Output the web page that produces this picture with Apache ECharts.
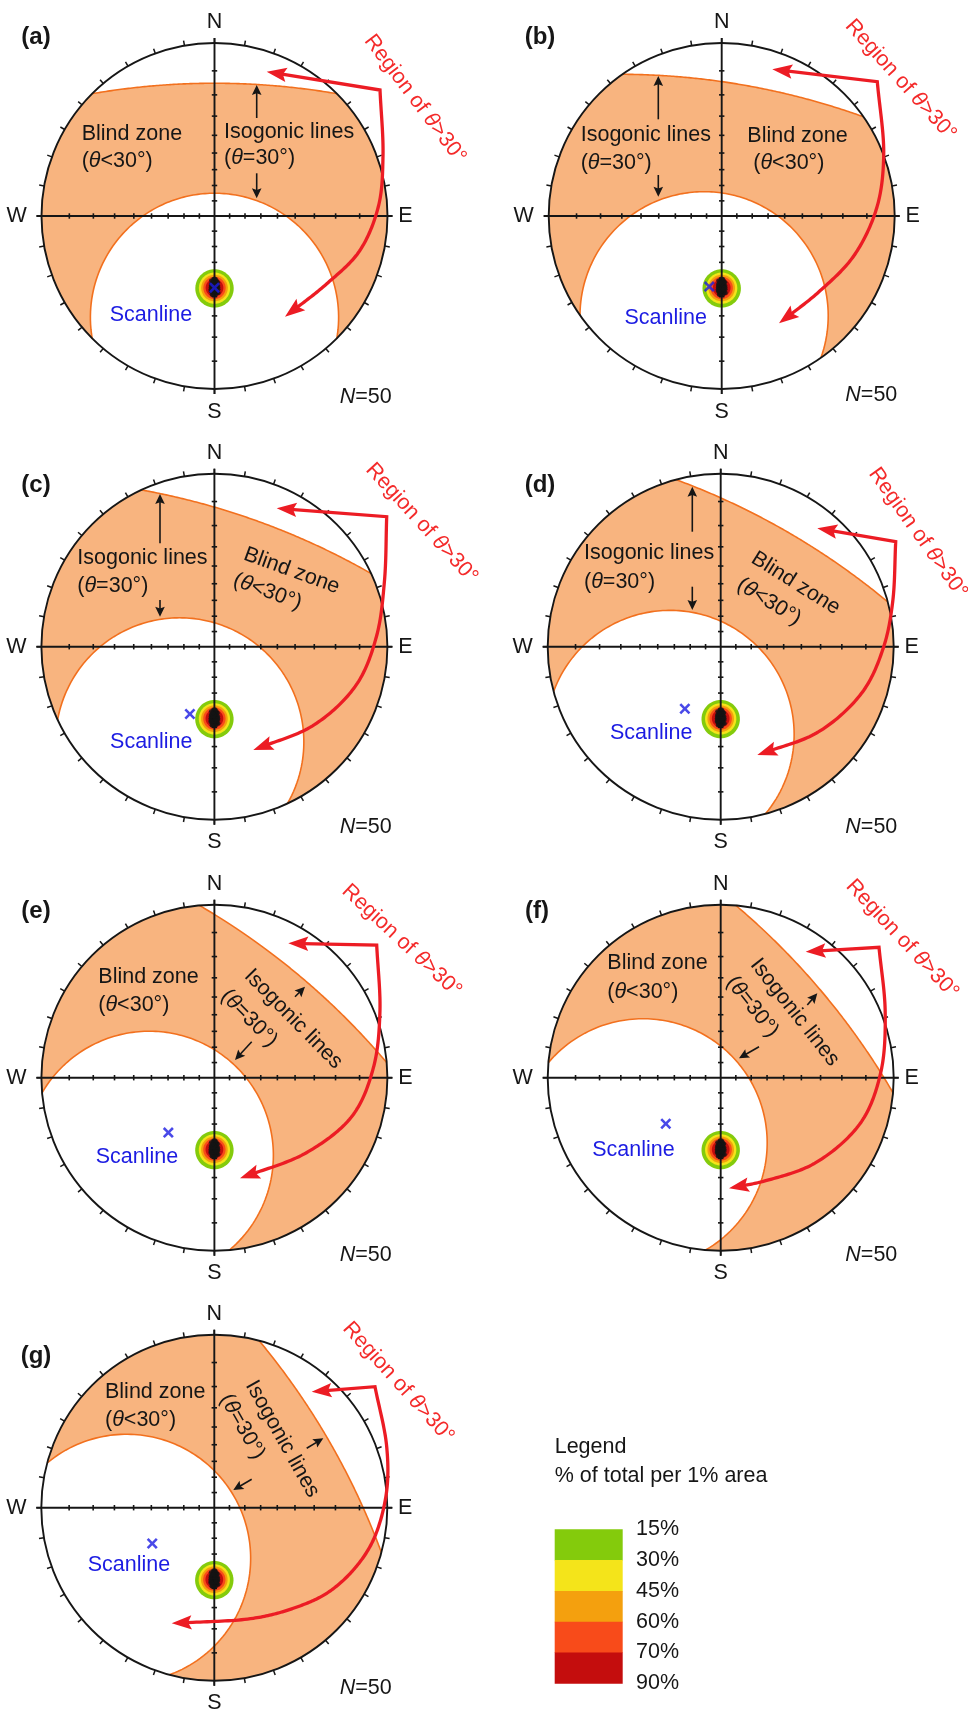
<!DOCTYPE html>
<html>
<head>
<meta charset="utf-8">
<script src="https://cdn.jsdelivr.net/npm/echarts@6/dist/echarts.min.js"></script>
<style>
  html, body { margin: 0; padding: 0; background: #fff; }
  #chart { width: 968px; height: 1716px; }
</style>
</head>
<body>
<div id="chart"></div>
<script>
// ---- data -------------------------------------------------------------
const panelTags = ['(a)', '(b)', '(c)', '(d)', '(e)', '(f)', '(g)'];
// scanline orientation for each net (trend, plunge in degrees)
const scanlineTrend = [180, 190, 200, 210, 220, 230, 240];
const scanlinePlunge = [45, 45, 45, 45, 45, 45, 45];
// limiting angle between scanline and discontinuity plane
const isogonicTheta = 30;
const sampleSize = 50;
// poles to discontinuities (trend, plunge)
const poles = [
  [180, 45], [178, 44], [182, 46], [179, 47], [181, 43], [178, 46], [182, 44], [180, 48], [177, 44], [183, 47],
  [179, 42], [181, 49], [178, 47], [182, 42], [180, 44], [178, 49], [182, 48], [177, 46], [183, 45], [179, 45],
  [181, 46], [180, 41], [178, 42], [181, 50], [177, 48], [183, 43], [180, 50], [178, 43], [182, 41], [179, 49],
  [181, 44], [178, 45], [182, 45], [180, 46], [177, 42], [183, 49], [179, 41], [181, 41], [178, 48], [183, 46],
  [180, 43], [179, 48], [182, 47], [180, 47], [177, 45], [183, 44], [179, 44], [181, 48], [179, 50], [182, 43]
];
// density contours around the pole set (angular radius of each contour)
const contourCentre = [180, 45];
const contourRadiusDeg = [10.8, 8.8, 7.5, 6.3, 5.0];
const contourColors = ['#84cb0c', '#f4e41a', '#f4a00e', '#f84b1a', '#c40d0d'];
const legendLabels = ['15%', '30%', '45%', '60%', '70%', '90%'];
// net graduations
const azimuthTicks = [0, 10, 20, 30, 40, 50, 60, 70, 80, 90, 100, 110, 120, 130, 140, 150, 160, 170,
  180, 190, 200, 210, 220, 230, 240, 250, 260, 270, 280, 290, 300, 310, 320, 330, 340, 350];
const dipTicks = [10, 20, 30, 40, 50, 60, 70, 80];

// ---- layout -----------------------------------------------------------
const R = 173;
const centres = [[214.5, 216], [721.7, 216], [214.4, 646.7], [720.7, 646.7],
                 [214.4, 1077.7], [720.7, 1077.7], [214.3, 1507.7]];
const FONT = 'Liberation Sans, Arial, Helvetica, sans-serif';
const FS = 21.5;
const INK = '#161616';
const ZONE_FILL = '#f8b47f';
const ZONE_EDGE = '#f2701e';
const SWEEP = '#ec1c24';
const REGION_TXT = '#f42a2a';
const BLUE = '#1c1ce2';

// annotation placement per net: pixel offsets from the net centre (y down)
const notes = [
  { tag: [-178.5, -179],
    text: [['Blind zone', -132.8, -81.7, 'left', 0], ['({i|θ}<30°)', -132.8, -55, 'left', 0],
           ['Isogonic lines', 9.5, -84.3, 'left', 0], ['({i|θ}=30°)', 9.5, -57.7, 'left', 0]],
    guide: [[[42.2, -98], [42.2, -131]], [[42.2, -42.7], [42.2, -17.7]]],
    scan: [-63.5, 99], count: [177.2, 180.7], region: [200.5, -117, 53],
    sweep: [[52.2, -144.3], [165.5, -126], [168.5, -60], [164, -10], [145, 35], [112, 68], [70.5, 100.7]] },
  { tag: [-181.7, -179],
    text: [['Isogonic lines', -141, -81, 'left', 0], ['({i|θ}=30°)', -141, -52.7, 'left', 0],
           ['Blind zone', 25.6, -80, 'left', 0], ['({i|θ}<30°)', 31.6, -52.7, 'left', 0]],
    guide: [[[-63.4, -96.7], [-63.4, -140]], [[-63.4, -41], [-63.4, -19.3]]],
    scan: [-56, 102.3], count: [175.6, 179], region: [179, -136, 48],
    sweep: [[50.6, -146.7], [155.6, -134.3], [162, -60], [155, -8], [132, 40], [97, 76], [57.3, 107.3]] },
  { tag: [-178.4, -161.7],
    text: [['Isogonic lines', -137.1, -88.4, 'left', 0], ['({i|θ}=30°)', -137.1, -61, 'left', 0],
           ['Blind zone', 77.3, -75.9, 'center', 20], ['({i|θ}<30°)', 53.1, -55, 'center', 20]],
    guide: [[[-54.4, -103.4], [-54.4, -152.7]], [[-54.4, -46.7], [-54.4, -30]]],
    scan: [-63.1, 95], count: [177.3, 180], region: [207.3, -123.4, 47.5],
    sweep: [[62.3, -138.4], [172.3, -130], [170, -65], [162, -10], [142, 38], [100, 78], [38.9, 103.3]] },
  { tag: [-180.7, -161.7],
    text: [['Isogonic lines', -136.7, -93.4, 'left', 0], ['({i|θ}=30°)', -136.7, -65, 'left', 0],
           ['Blind zone', 75, -63.4, 'center', 32], ['({i|θ}<30°)', 48.3, -45, 'center', 32]],
    guide: [[[-28.4, -115], [-28.4, -160]], [[-28.4, -60], [-28.4, -36.7]]],
    scan: [-69.5, 86.6], count: [176.6, 180], region: [197.3, -113.7, 54.5],
    sweep: [[96.6, -118.4], [175, -105], [172, -45], [163, 0], [142, 45], [98, 85], [36.6, 108.3]] },
  { tag: [-178.4, -166],
    text: [['Blind zone', -116.1, -100.4, 'left', 0], ['({i|θ}<30°)', -116.1, -72.7, 'left', 0],
           ['Isogonic lines', 78.9, -58.7, 'center', 45.5], ['({i|θ}=30°)', 34.6, -59.4, 'center', 45.5]],
    guide: [[[80.6, -81], [90.6, -91]], [[37.3, -36], [20.6, -17.7]]],
    scan: [-77.4, 79], count: [177.3, 177.3], region: [187.3, -136.9, 43],
    sweep: [[73.9, -134.4], [162.3, -132.7], [165.5, -65], [159, -10], [138, 38], [92, 75], [25.6, 100.6]] },
  { tag: [-183.7, -166],
    text: [['Blind zone', -113.4, -114.4, 'left', 0], ['({i|θ}<30°)', -113.4, -86, 'left', 0],
           ['Isogonic lines', 74, -65.4, 'center', 51.7], ['({i|θ}=30°)', 31.6, -71, 'center', 51.7]],
    guide: [[[86.6, -72.7], [96.6, -84.4]], [[38.3, -31], [18.3, -19.4]]],
    scan: [-87.2, 72.3], count: [176.6, 177.3], region: [181.6, -138.5, 47],
    sweep: [[85, -126], [158.3, -130.4], [164.5, -65], [160, -5], [140, 45], [95, 85], [45, 103], [8.3, 110.6]] },
  { tag: [-178.3, -151],
    text: [['Blind zone', -109.3, -116, 'left', 0], ['({i|θ}<30°)', -109.3, -87.7, 'left', 0],
           ['Isogonic lines', 68, -68.7, 'center', 60.7], ['({i|θ}=30°)', 28, -81, 'center', 60.7]],
    guide: [[[92.4, -59.4], [109, -69.4]], [[37.4, -28.4], [19, -17.7]]],
    scan: [-85.3, 57.3], count: [177.4, 180.6], region: [184, -125.2, 47.9],
    sweep: [[97.4, -116], [160.7, -121], [172.4, -61], [172, -14], [159, 32.3], [139, 62.3], [112.4, 85.6],
            [79, 100.6], [39, 110.6], [-42.6, 115.6]] }
];

// ---- equal-angle (Wulff) lower-hemisphere projection ------------------
const D2R = Math.PI / 180;
function vec(trend, plunge) {
  const t = trend * D2R, p = plunge * D2R;
  return [Math.cos(p) * Math.cos(t), Math.cos(p) * Math.sin(t), Math.sin(p)]; // north, east, down
}
function project(q, keepSide) {
  let [n, e, d] = q;
  if (d < 0) {
    if (keepSide) d = 0; else { n = -n; e = -e; d = -d; }
  }
  return [e / (1 + d), n / (1 + d)];
}
function frame(trend, plunge) {
  const t = trend * D2R, p = plunge * D2R;
  return {
    p,
    L: [Math.cos(p) * Math.cos(t), Math.cos(p) * Math.sin(t), Math.sin(p)],
    u: [-Math.sin(p) * Math.cos(t), -Math.sin(p) * Math.sin(t), Math.cos(p)],
    v: [-Math.sin(t), Math.cos(t), 0]
  };
}
function ringPoint(f, k, s, phi) {
  return [0, 1, 2].map(j => k * f.L[j] + s * (Math.cos(phi) * f.u[j] + Math.sin(phi) * f.v[j]));
}
function smallCircle(centre, rhoDeg) {
  const f = frame(centre[0], centre[1]);
  const k = Math.cos(rhoDeg * D2R), s = Math.sin(rhoDeg * D2R);
  const pts = [];
  for (let i = 0; i < 72; i++) pts.push(project(ringPoint(f, k, s, i / 72 * 2 * Math.PI)));
  return pts;
}
// blind zone: poles whose plane makes an angle below theta with the scanline
function blindZone(trend, plunge, theta) {
  const f = frame(trend, plunge);
  const c = Math.sin(theta * D2R), s = Math.cos(theta * D2R);
  const tp = Math.tan(f.p);
  const clamp = x => Math.max(-1, Math.min(1, x));
  const phi0 = Math.acos(clamp(-c * tp / s));
  const phi1 = Math.acos(clamp(c * tp / s));
  const N = 140;
  const r1 = [], r2 = [];
  for (let i = 0; i <= N; i++) r1.push(ringPoint(f, c, s, -phi0 + 2 * phi0 * i / N));
  for (let i = 0; i <= N; i++) r2.push(ringPoint(f, -c, s, phi1 - 2 * phi1 * i / N));
  const az = q => Math.atan2(q[1], q[0]);
  const arc = (a0, a1) => {
    while (a1 < a0) a1 += 2 * Math.PI;
    const n = Math.max(2, Math.ceil((a1 - a0) / (1.5 * D2R)));
    const out = [];
    for (let i = 0; i <= n; i++) { const a = a0 + (a1 - a0) * i / n; out.push([Math.sin(a), Math.cos(a)]); }
    return out;
  };
  const P1 = r1.map(q => project(q, true));
  const P2 = r2.map(q => project(q, true));
  const poly = [].concat(P1, arc(az(r1[N]), az(r2[0])), P2, arc(az(r2[N]), az(r1[0])));
  return { poly, c1: P1, c2: P2 };
}

// ---- drawing helpers --------------------------------------------------
function txt(x, y, text, opt) {
  opt = opt || {};
  return {
    type: 'text', x, y, rotation: -(opt.rot || 0) * D2R,
    style: {
      text, fill: opt.fill || INK, fontSize: opt.size || FS, fontFamily: FONT,
      fontWeight: opt.weight || 'normal', align: opt.align || 'center', verticalAlign: 'middle',
      rich: { i: { fontStyle: 'italic', fontSize: opt.size || FS, fontFamily: FONT, fill: opt.fill || INK } }
    }
  };
}
function arrowHead(tip, from, len, hw, fill) {
  const dx = tip[0] - from[0], dy = tip[1] - from[1], l = Math.hypot(dx, dy);
  const ux = dx / l, uy = dy / l;
  const bx = tip[0] - ux * len, by = tip[1] - uy * len;
  return { type: 'polygon', shape: { points: [
    [tip[0], tip[1]], [bx - uy * hw, by + ux * hw], [bx + ux * len * 0.18, by + uy * len * 0.18], [bx + uy * hw, by - ux * hw]
  ] }, style: { fill } };
}
// centripetal Catmull-Rom spline through the way points
function spline(pts, seg) {
  const n = pts.length, out = [];
  const lerp = (a, b, ta, tb, t) => [0, 1].map(j => ((tb - t) * a[j] + (t - ta) * b[j]) / (tb - ta));
  const knot = (a, b) => Math.sqrt(Math.hypot(b[0] - a[0], b[1] - a[1])) || 1e-6;
  for (let i = 0; i < n - 1; i++) {
    const p1 = pts[i], p2 = pts[i + 1];
    const p0 = i > 0 ? pts[i - 1] : [2 * p1[0] - p2[0], 2 * p1[1] - p2[1]];
    const p3 = i + 2 < n ? pts[i + 2] : [2 * p2[0] - p1[0], 2 * p2[1] - p1[1]];
    const t0 = 0, t1 = t0 + knot(p0, p1), t2 = t1 + knot(p1, p2), t3 = t2 + knot(p2, p3);
    for (let k = 0; k < seg; k++) {
      const t = t1 + (t2 - t1) * k / seg;
      const A1 = lerp(p0, p1, t0, t1, t), A2 = lerp(p1, p2, t1, t2, t), A3 = lerp(p2, p3, t2, t3, t);
      const B1 = lerp(A1, A2, t0, t2, t), B2 = lerp(A2, A3, t1, t3, t);
      out.push(lerp(B1, B2, t1, t2, t));
    }
  }
  out.push(pts[n - 1]);
  return out;
}

function renderNet(i, api) {
  const C = p => api.coord(p);
  const o = C([0, 0]);
  const rpx = C([1, 0])[0] - o[0];
  const kids = [];
  const zone = blindZone(scanlineTrend[i], scanlinePlunge[i], isogonicTheta);
  kids.push({ type: 'polygon', shape: { points: zone.poly.map(C) }, style: { fill: ZONE_FILL } });
  kids.push({ type: 'polyline', shape: { points: zone.c1.map(C) }, style: { stroke: ZONE_EDGE, lineWidth: 1.6, fill: 'none' } });
  kids.push({ type: 'polyline', shape: { points: zone.c2.map(C) }, style: { stroke: ZONE_EDGE, lineWidth: 1.6, fill: 'none' } });
  contourRadiusDeg.forEach((rho, k) => {
    kids.push({ type: 'polygon', shape: { points: smallCircle(contourCentre, rho).map(C) }, style: { fill: contourColors[k] } });
  });
  kids.push({ type: 'circle', shape: { cx: o[0], cy: o[1], r: rpx }, style: { fill: 'none', stroke: INK, lineWidth: 1.9 } });
  const ext = 1 + 5 / R;
  azimuthTicks.forEach(a => {
    const s = Math.sin(a * D2R), c = Math.cos(a * D2R);
    const p1 = C([s, c]), p2 = C([s * ext, c * ext]);
    kids.push({ type: 'line', shape: { x1: p1[0], y1: p1[1], x2: p2[0], y2: p2[1] }, style: { stroke: INK, lineWidth: 1.5 } });
  });
  const ns1 = C([0, ext]), ns2 = C([0, -ext]), ew1 = C([-ext, 0]), ew2 = C([ext, 0]);
  kids.push({ type: 'line', shape: { x1: ns1[0], y1: ns1[1], x2: ns2[0], y2: ns2[1] }, style: { stroke: INK, lineWidth: 1.9 } });
  kids.push({ type: 'line', shape: { x1: ew1[0], y1: ew1[1], x2: ew2[0], y2: ew2[1] }, style: { stroke: INK, lineWidth: 1.9 } });
  const h = 2.7;
  dipTicks.forEach(d => {
    const r = Math.tan((90 - d) / 2 * D2R);
    [[0, r], [0, -r]].forEach(p => { const q = C(p);
      kids.push({ type: 'line', shape: { x1: q[0] - h, y1: q[1], x2: q[0] + h, y2: q[1] }, style: { stroke: INK, lineWidth: 1.6 } }); });
    [[r, 0], [-r, 0]].forEach(p => { const q = C(p);
      kids.push({ type: 'line', shape: { x1: q[0], y1: q[1] - h, x2: q[0], y2: q[1] + h }, style: { stroke: INK, lineWidth: 1.6 } }); });
  });
  const off = (dx, dy) => C([dx / R, -dy / R]);
  let p;
  p = off(0, -193.5); kids.push(txt(p[0], p[1], 'N'));
  p = off(0, 195.6); kids.push(txt(p[0], p[1], 'S'));
  p = off(-187.8, 0); kids.push(txt(p[0], p[1], 'W', { align: 'right' }));
  p = off(183.8, 0); kids.push(txt(p[0], p[1], 'E', { align: 'left' }));
  return { type: 'group', children: kids };
}

function renderNotes(i, api) {
  const n = notes[i];
  const off = (dx, dy) => api.coord([dx / R, -dy / R]);
  const kids = [];
  let p = off(n.tag[0], n.tag[1]);
  kids.push(txt(p[0], p[1], panelTags[i], { weight: 'bold', size: 24 }));
  n.text.forEach(t => { const q = off(t[1], t[2]); kids.push(txt(q[0], q[1], t[0], { align: t[3], rot: t[4] })); });
  p = off(n.scan[0], n.scan[1]);
  kids.push(txt(p[0], p[1], 'Scanline', { fill: BLUE }));
  p = off(n.count[0], n.count[1]);
  kids.push(txt(p[0], p[1], '{i|N}=' + sampleSize, { align: 'right' }));
  p = off(n.region[0], n.region[1]);
  kids.push(txt(p[0], p[1], 'Region of {i|θ}>30°', { fill: REGION_TXT, rot: n.region[2] }));
  // black guide arrows towards the isogonic lines
  n.guide.forEach(g => {
    const a = off(g[0][0], g[0][1]), b = off(g[1][0], g[1][1]);
    const dx = b[0] - a[0], dy = b[1] - a[1], l = Math.hypot(dx, dy);
    const e = [b[0] - dx / l * 6, b[1] - dy / l * 6];
    kids.push({ type: 'line', shape: { x1: a[0], y1: a[1], x2: e[0], y2: e[1] }, style: { stroke: INK, lineWidth: 1.6 } });
    kids.push(arrowHead(b, a, 10, 4.8, INK));
  });
  // red sweep arrow
  const sp = n.sweep.map(q => off(q[0], q[1]));
  const tip1 = sp[0], corner = sp[1];
  const curve = spline(sp.slice(1), 24);
  const tip2 = curve[curve.length - 1];
  let k = curve.length - 1;
  while (k > 0 && Math.hypot(curve[k][0] - tip2[0], curve[k][1] - tip2[1]) < 19) k--;
  const back = curve[k];
  const d1x = tip1[0] - corner[0], d1y = tip1[1] - corner[1], l1 = Math.hypot(d1x, d1y);
  const start = [tip1[0] - d1x / l1 * 14, tip1[1] - d1y / l1 * 14];
  const line = [start].concat(curve.slice(0, k + 1));
  const bl = Math.hypot(tip2[0] - back[0], tip2[1] - back[1]);
  line.push([tip2[0] - (tip2[0] - back[0]) / bl * 14, tip2[1] - (tip2[1] - back[1]) / bl * 14]);
  kids.push({ type: 'polyline', shape: { points: line }, style: { stroke: SWEEP, lineWidth: 3.3, fill: 'none', lineJoin: 'miter' } });
  kids.push(arrowHead(tip1, corner, 20, 7.2, SWEEP));
  kids.push(arrowHead(tip2, back, 20, 7.2, SWEEP));
  return { type: 'group', children: kids };
}

// ---- option -----------------------------------------------------------
const CROSS = 'path://M0,2 L2,0 L6,4 L10,0 L12,2 L8,6 L12,10 L10,12 L6,8 L2,12 L0,10 L4,6 Z';
const series = [];
centres.forEach((c, i) => {
  series.push({ type: 'custom', name: 'net' + i, xAxisIndex: i, yAxisIndex: i, z: 1, clip: false, silent: true,
    data: [[0, 0]], renderItem: (params, api) => renderNet(i, api) });
  series.push({ type: 'scatter', name: 'poles' + i, xAxisIndex: i, yAxisIndex: i, z: 3, silent: true,
    symbol: 'circle', symbolSize: 4.2, itemStyle: { color: '#141414' },
    data: poles.map(q => project(vec(q[0], q[1]))) });
  series.push({ type: 'scatter', name: 'scanline' + i, xAxisIndex: i, yAxisIndex: i, z: 4, silent: true,
    symbol: CROSS, symbolSize: 11, itemStyle: { color: BLUE },
    data: [project(vec(scanlineTrend[i], scanlinePlunge[i]))] });
  series.push({ type: 'custom', name: 'notes' + i, xAxisIndex: i, yAxisIndex: i, z: 5, clip: false, silent: true,
    data: [[0, 0]], renderItem: (params, api) => renderNotes(i, api) });
});

const LX = 554.7, LY = 1529.3, LW = 68, LH = 30.8;
const graphic = [
  { type: 'text', x: LX, y: 1447.5, style: { text: 'Legend', fill: INK, fontSize: FS, fontFamily: FONT, align: 'left', verticalAlign: 'middle' } },
  { type: 'text', x: LX, y: 1476.5, style: { text: '% of total per 1% area', fill: INK, fontSize: FS, fontFamily: FONT, align: 'left', verticalAlign: 'middle' } }
];
contourColors.forEach((col, k) => {
  graphic.push({ type: 'rect', shape: { x: LX, y: LY + k * LH, width: LW, height: LH + 0.5 }, style: { fill: col } });
});
legendLabels.forEach((lab, k) => {
  graphic.push({ type: 'text', x: 636, y: LY + k * LH, style: { text: lab, fill: INK, fontSize: FS, fontFamily: FONT, align: 'left', verticalAlign: 'middle' } });
});

const chart = echarts.init(document.getElementById('chart'), null, { renderer: 'canvas', width: 968, height: 1716 });
chart.setOption({
  animation: false,
  backgroundColor: '#ffffff',
  grid: centres.map(([cx, cy]) => ({ left: cx - R, top: cy - R, width: 2 * R, height: 2 * R, show: false })),
  xAxis: centres.map((c, i) => ({ type: 'value', gridIndex: i, min: -1, max: 1, show: false })),
  yAxis: centres.map((c, i) => ({ type: 'value', gridIndex: i, min: -1, max: 1, show: false })),
  series,
  graphic
});
</script>
</body>
</html>
